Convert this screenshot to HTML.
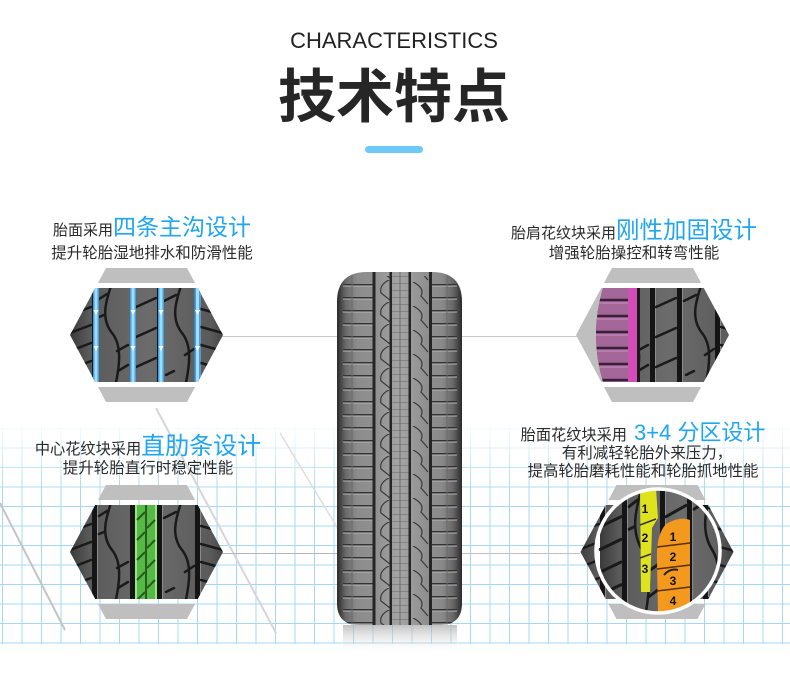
<!DOCTYPE html>
<html><head><meta charset="utf-8">
<style>
html,body{margin:0;padding:0;background:#fff;width:790px;height:687px;overflow:hidden}
svg{display:block}
</style></head>
<body>
<svg width="790" height="687" viewBox="0 0 790 687" xmlns="http://www.w3.org/2000/svg" xmlns:xlink="http://www.w3.org/1999/xlink">
<defs>
  <pattern id="grid" x="2" y="545" width="19.5" height="19.5" patternUnits="userSpaceOnUse">
    <rect x="0" y="0" width="19.5" height="1" fill="#a6d8f3"/>
    <rect x="0" y="0" width="1" height="19.5" fill="#a6d8f3"/>
  </pattern>
  <linearGradient id="fadeG" x1="0" y1="0" x2="0" y2="1">
    <stop offset="0" stop-color="#000"/>
    <stop offset="0.32" stop-color="#fff"/>
    <stop offset="1" stop-color="#fff"/>
  </linearGradient>
  <mask id="fade"><rect x="0" y="420" width="790" height="225" fill="url(#fadeG)"/></mask>

  <linearGradient id="tg" x1="0" y1="0" x2="1" y2="0">
    <stop offset="0" stop-color="#3a3a3a"/>
    <stop offset="0.12" stop-color="#5a5a5a"/>
    <stop offset="0.5" stop-color="#6c6c6c"/>
    <stop offset="0.88" stop-color="#5a5a5a"/>
    <stop offset="1" stop-color="#3a3a3a"/>
  </linearGradient>

  <g id="tread">
    <rect x="0" y="0" width="160" height="100" fill="url(#tg)"/>
    <g fill="#151515">
      <rect x="22" y="0" width="5" height="100"/>
      <rect x="60" y="0" width="5" height="100"/>
      <rect x="87" y="0" width="5" height="100"/>
      <rect x="125" y="0" width="5" height="100"/>
    </g>
    <g stroke="#8c8c8c" stroke-width="1">
      <line x1="27.5" y1="0" x2="27.5" y2="100"/>
      <line x1="65.5" y1="0" x2="65.5" y2="100"/>
      <line x1="92.5" y1="0" x2="92.5" y2="100"/>
      <line x1="130.5" y1="0" x2="130.5" y2="100"/>
    </g>
    <g stroke="#1a1a1a" stroke-width="2.5" fill="none" stroke-linecap="round">
      <path d="M0 12 L21 4 M0 30 L21 22 M0 48 L21 40 M0 66 L21 58 M0 84 L21 76"/>
      <path d="M42 -2 C35 18 31 34 42 48 C52 60 50 80 45 102"/>
      <path d="M29 14 L37 9 M29 32 L34 30 M47 66 L58 60 M48 86 L58 80"/>
      <path d="M66 22 L86 13 M66 52 L86 43 M66 82 L86 73"/>
      <path d="M112 -2 C105 18 101 34 112 48 C122 60 120 80 115 102"/>
      <path d="M94 16 L106 10 M115 70 L124 64 M96 90 L104 86"/>
      <path d="M131 6 L160 14 M131 24 L160 32 M131 42 L160 50 M131 60 L160 68 M131 78 L160 86 M131 96 L160 104"/>
    </g>
  </g>

  <clipPath id="cTL"><polygon points="70,335 95.25,288 197.75,288 223,335 197.75,382 95.25,382"/></clipPath>
  <clipPath id="cTR"><path d="M603 288 L703.75 288 L729 335 L703.75 382 L603 382 Q589 335 603 288 Z"/></clipPath>
  <clipPath id="cLL"><polygon points="70,552 95.25,505 197.75,505 223,552 197.75,599 95.25,599"/></clipPath>
  <clipPath id="cLR"><polygon points="580.5,552 605.75,505 708.25,505 733.5,552 708.25,599 605.75,599"/></clipPath>
  <clipPath id="cCirc"><circle cx="658" cy="551" r="61"/></clipPath>

  <linearGradient id="tireG" x1="337" y1="0" x2="462" y2="0" gradientUnits="userSpaceOnUse">
    <stop offset="0" stop-color="#2a2a2a"/>
    <stop offset="0.03" stop-color="#444"/>
    <stop offset="0.07" stop-color="#6a6a6a"/>
    <stop offset="0.16" stop-color="#8c8c8c"/>
    <stop offset="0.3" stop-color="#909090"/>
    <stop offset="0.5" stop-color="#a4a4a4"/>
    <stop offset="0.7" stop-color="#909090"/>
    <stop offset="0.84" stop-color="#8a8a8a"/>
    <stop offset="0.93" stop-color="#666"/>
    <stop offset="0.97" stop-color="#444"/>
    <stop offset="1" stop-color="#2a2a2a"/>
  </linearGradient>
  <clipPath id="tireClip"><path d="M337 302 Q337 272 367 272 L432 272 Q462 272 462 302 L462 603 Q462 625 440 625 L359 625 Q337 625 337 603 Z"/></clipPath>
  <pattern id="sipe" x="0" y="284" width="40" height="13" patternUnits="userSpaceOnUse">
    <rect x="0" y="0" width="40" height="1.5" fill="#333"/>
    <rect x="0" y="1.5" width="40" height="1" fill="#b8b8b8"/>
  </pattern>
  <pattern id="waveL" x="376" y="280" width="14" height="22" patternUnits="userSpaceOnUse">
    <path d="M13 0 Q3 5 5 13 L14 20" stroke="#3a3a3a" stroke-width="1.2" fill="none"/>
  </pattern>
  <pattern id="waveR" x="411" y="282" width="18" height="24" patternUnits="userSpaceOnUse">
    <path d="M2 0 Q14 6 10 14 L17 22" stroke="#3a3a3a" stroke-width="1.2" fill="none"/>
  </pattern>
  <pattern id="ribC" x="0" y="276" width="20" height="7" patternUnits="userSpaceOnUse">
    <rect x="0" y="0" width="20" height="1" fill="#838383"/>
  </pattern>
  <linearGradient id="reflG" x1="0" y1="0" x2="0" y2="1">
    <stop offset="0" stop-color="#a8a8a8" stop-opacity="0.7"/>
    <stop offset="1" stop-color="#ffffff" stop-opacity="0"/>
  </linearGradient>
</defs>

<!-- background grid -->
<rect x="0" y="420" width="790" height="224" fill="url(#grid)" mask="url(#fade)"/>

<!-- diagonal faint lines -->
<line x1="0" y1="503" x2="65" y2="630" stroke="#c4c4c4" stroke-width="2"/>
<line x1="156" y1="408" x2="276" y2="633" stroke="#d6d6d6" stroke-width="2"/>
<line x1="280" y1="433" x2="343" y2="537" stroke="#dedede" stroke-width="1.5"/>

<!-- connector lines -->
<line x1="222" y1="336.5" x2="340" y2="336.5" stroke="#c8c8c8" stroke-width="1"/>
<line x1="460" y1="336.5" x2="578" y2="336.5" stroke="#c8c8c8" stroke-width="1"/>
<line x1="222" y1="553.5" x2="340" y2="553.5" stroke="#b5b5b5" stroke-width="1"/>
<line x1="460" y1="553.5" x2="580" y2="553.5" stroke="#c0c0c0" stroke-width="1"/>

<!-- Title -->
<text x="394" y="48" font-family="'Liberation Sans',sans-serif" font-size="22" text-anchor="middle" fill="#222">CHARACTERISTICS</text>
<text x="394" y="117" font-family="'Liberation Sans','Noto Sans CJK SC',sans-serif" font-size="58" font-weight="bold" text-anchor="middle" fill="#262626">技术特点</text>
<rect x="365" y="146" width="58" height="7" rx="3.5" fill="#6dcaf6"/>

<!-- Texts -->
<g font-family="'Liberation Sans','Noto Sans CJK SC',sans-serif" text-anchor="middle" fill="#2a2a2a">
  <text x="152" y="235"><tspan font-size="15">胎面采用</tspan><tspan font-size="23" fill="#1fa6ee">四条主沟设计</tspan></text>
  <text x="152" y="258" font-size="15.5">提升轮胎湿地排水和防滑性能</text>

  <text x="634" y="238"><tspan font-size="15">胎肩花纹块采用</tspan><tspan font-size="23.5" fill="#1fa6ee">刚性加固设计</tspan></text>
  <text x="634" y="258" font-size="15.5">增强轮胎操控和转弯性能</text>

  <text x="148" y="454"><tspan font-size="15.2">中心花纹块采用</tspan><tspan font-size="24" fill="#1fa6ee">直肋条设计</tspan></text>
  <text x="148" y="473" font-size="15.5">提升轮胎直行时稳定性能</text>

  <text x="643" y="440"><tspan font-size="15.2">胎面花纹块采用</tspan><tspan font-size="22" fill="#1fa6ee" dx="7">3+4 分区设计</tspan></text>
  <text x="647" y="458" font-size="15.5">有利减轻轮胎外来压力，</text>
  <text x="643" y="476" font-size="15.4">提高轮胎磨耗性能和轮胎抓地性能</text>
</g>

<!-- TL hexagon -->
<g fill="#bfbfbf">
  <polygon points="106,268 187,268 195.06,283 97.94,283"/>
  <polygon points="97.94,387 195.06,387 187,402 106,402"/>
</g>
<g clip-path="url(#cTL)">
  <use xlink:href="#tread" href="#tread" transform="translate(70,285)"/>
  <g>
    <rect x="93" y="286" width="6" height="100" fill="#3aa0e8"/>
    <rect x="130" y="286" width="6" height="100" fill="#3aa0e8"/>
    <rect x="158" y="286" width="6" height="100" fill="#3aa0e8"/>
    <rect x="194.5" y="286" width="6" height="100" fill="#3aa0e8"/>
    <rect x="94.5" y="286" width="3" height="100" fill="#a6dcf8"/>
    <rect x="131.5" y="286" width="3" height="100" fill="#a6dcf8"/>
    <rect x="159.5" y="286" width="3" height="100" fill="#a6dcf8"/>
    <rect x="196" y="286" width="3" height="100" fill="#a6dcf8"/>
    <g fill="#ffffff">
      <polygon points="93.5,310 98.5,310 96,315"/>
      <polygon points="93.5,346 98.5,346 96,351"/>
      <polygon points="130.5,310 135.5,310 133,315"/>
      <polygon points="130.5,346 135.5,346 133,351"/>
      <polygon points="158.5,310 163.5,310 161,315"/>
      <polygon points="158.5,346 163.5,346 161,351"/>
      <polygon points="195,310 200,310 197.5,315"/>
      <polygon points="195,346 200,346 197.5,351"/>
    </g>
  </g>
</g>

<!-- TR hexagon -->
<g fill="#bfbfbf">
  <polygon points="612,268 693,268 701.06,283 603.94,283"/>
  <polygon points="603.94,387 701.06,387 693,402 612,402"/>
  <polygon points="576,335 601.25,288 703.75,288 729,335 703.75,382 601.25,382"/>
</g>
<g clip-path="url(#cTR)">
  <use xlink:href="#tread" href="#tread" transform="translate(590,285)"/>
  <rect x="590" y="286" width="40" height="100" fill="#a4679a"/>
  <rect x="628" y="286" width="9" height="100" fill="#d24db8"/>
  <rect x="637" y="286" width="3" height="100" fill="#1a1a1a"/>
  <g stroke="#3a2036" stroke-width="2.5">
    <line x1="590" y1="300" x2="628" y2="300"/>
    <line x1="590" y1="316" x2="628" y2="316"/>
    <line x1="590" y1="332" x2="628" y2="332"/>
    <line x1="590" y1="348" x2="628" y2="348"/>
    <line x1="590" y1="364" x2="628" y2="364"/>
    <line x1="590" y1="380" x2="628" y2="380"/>
  </g>
  <g stroke="#c890bc" stroke-width="1">
    <line x1="590" y1="303" x2="628" y2="303"/>
    <line x1="590" y1="319" x2="628" y2="319"/>
    <line x1="590" y1="335" x2="628" y2="335"/>
    <line x1="590" y1="351" x2="628" y2="351"/>
    <line x1="590" y1="367" x2="628" y2="367"/>
  </g>
</g>

<!-- LL hexagon -->
<g fill="#bfbfbf">
  <polygon points="106,485 187,485 195.06,500 97.94,500"/>
  <polygon points="97.94,604 195.06,604 187,619 106,619"/>
</g>
<g clip-path="url(#cLL)">
  <use xlink:href="#tread" href="#tread" transform="translate(70,502)"/>
  <rect x="135" y="503" width="22" height="100" fill="#56bb45"/>
  <rect x="135" y="503" width="2" height="100" fill="#9be585"/>
  <rect x="155" y="503" width="2" height="100" fill="#9be585"/>
  <rect x="145" y="503" width="2" height="100" fill="#2a5a22"/>
  <g stroke="#2a5a22" stroke-width="2">
    <line x1="137" y1="520" x2="145" y2="512"/>
    <line x1="147" y1="528" x2="155" y2="520"/>
    <line x1="137" y1="540" x2="145" y2="532"/>
    <line x1="147" y1="548" x2="155" y2="540"/>
    <line x1="137" y1="560" x2="145" y2="552"/>
    <line x1="147" y1="568" x2="155" y2="560"/>
    <line x1="137" y1="580" x2="145" y2="572"/>
    <line x1="147" y1="588" x2="155" y2="580"/>
    <line x1="137" y1="600" x2="145" y2="592"/>
  </g>
</g>

<!-- LR hexagon -->
<g fill="#bfbfbf">
  <polygon points="616.5,485 697.5,485 705.56,500 608.44,500"/>
  <polygon points="608.44,604 705.56,604 697.5,619 616.5,619"/>
</g>
<g clip-path="url(#cLR)">
  <use xlink:href="#tread" href="#tread" transform="translate(578,502)"/>
</g>
<circle cx="658" cy="551" r="63" fill="#fff"/>
<g clip-path="url(#cCirc)">
  <use xlink:href="#tread" href="#tread" transform="translate(600,489) scale(1,1.26)"/>
  <polygon points="640,488 656,488 658,518 652,528 650,592 641,592" fill="#dfe31e"/>
  <g stroke="#333" stroke-width="1.5">
    <line x1="640" y1="525" x2="656" y2="519"/>
    <line x1="640" y1="558" x2="651" y2="554"/>
  </g>
  <path d="M666 524 Q680 516 690 520 L690 616 L658 616 L657 560 Q656 535 666 524 Z" fill="#f39a1e"/>
  <g stroke="#5a3000" stroke-width="1.5">
    <line x1="657" y1="547" x2="690" y2="543"/>
    <line x1="657" y1="569" x2="690" y2="565"/>
    <line x1="657" y1="591" x2="690" y2="587"/>
  </g>
  <path d="M664 575 Q670 568 678 570" stroke="#222" stroke-width="2" fill="none"/>
  <g font-family="'Liberation Sans',sans-serif" font-size="12" font-weight="bold" fill="#111" text-anchor="middle">
    <text x="645" y="513">1</text>
    <text x="645" y="542">2</text>
    <text x="645" y="573">3</text>
    <text x="673" y="541">1</text>
    <text x="673" y="561">2</text>
    <text x="673" y="585">3</text>
    <text x="673" y="605">4</text>
  </g>
</g>
<circle cx="658" cy="551" r="62" fill="none" stroke="#ffffff" stroke-width="3.5"/>

<!-- Center tire -->
<g clip-path="url(#tireClip)">
  <rect x="337" y="272" width="125" height="353" fill="url(#tireG)"/>
  <rect x="343" y="276" width="30" height="349" fill="url(#sipe)"/>
  <rect x="432" y="276" width="25" height="349" fill="url(#sipe)"/>
  <rect x="392" y="276" width="16.5" height="349" fill="url(#ribC)"/>
  <rect x="376" y="276" width="13.5" height="349" fill="url(#waveL)"/>
  <rect x="411" y="276" width="18" height="349" fill="url(#waveR)"/>
  <g fill="#262626">
    <rect x="372.5" y="272" width="3" height="353"/>
    <rect x="389.5" y="272" width="2.5" height="353"/>
    <rect x="408.5" y="272" width="2.5" height="353"/>
    <rect x="429" y="272" width="3" height="353"/>
  </g>
  <g stroke="#6a6a6a" stroke-width="1">
    <line x1="352" y1="272" x2="352" y2="625"/>
    <line x1="447" y1="272" x2="447" y2="625"/>
    <line x1="400" y1="272" x2="400" y2="625"/>
  </g>
</g>
<!-- reflection -->
<rect x="343" y="625" width="114" height="30" fill="url(#reflG)"/>
</svg>
</body></html>
